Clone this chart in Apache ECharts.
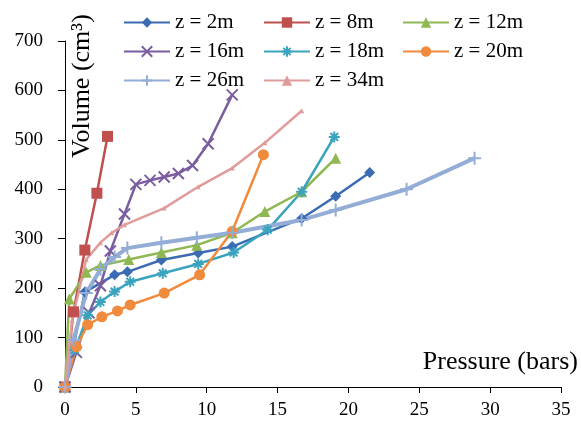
<!DOCTYPE html>
<html>
<head>
<meta charset="utf-8">
<script src="https://cdn.jsdelivr.net/npm/echarts@6/dist/echarts.min.js"></script>
<style>
html,body{margin:0;padding:0;background:#fff;}
#main{width:581px;height:428px;}
</style>
</head>
<body>
<div id="main"></div>
<script>
// [pressure (bars), volume (cm3)]
var z2 = [[0,0],[1.4,192],[3.5,227],[4.4,233],[6.8,257],[9.4,271],[11.8,284],[16.7,341],[19.1,386],[21.5,434]];
var z8 = [[0,0],[0.6,152],[1.4,277],[2.25,392],[3.0,507]];
var z12 = [[0,0],[0.3,178],[1.5,232],[2.5,246],[4.5,258],[6.8,272],[9.3,287],[11.8,312],[14.1,355],[16.7,395],[19.1,463]];
var z16 = [[0,0],[0.8,70],[1.7,150],[2.5,205],[3.2,275],[4.2,350],[5,410],[6,418],[7,425],[8,432],[9,448],[10.1,492],[11.8,591]];
var z18 = [[0,0],[0.7,75],[1.6,145],[2.5,172],[3.5,193],[4.6,213],[6.9,230],[9.4,249],[11.9,272],[14.3,318],[16.7,395],[19.0,506]];
var z20 = [[0,0],[0.8,81],[1.6,126],[2.6,142],[3.7,154],[4.6,166],[7.0,190],[9.5,227],[11.8,315],[14.0,470]];
var z26 = [[0,0],[0.6,95],[1.5,190],[2.5,238],[3.5,263],[4.4,281],[6.8,292],[9.3,302],[11.8,312],[16.7,338],[19.1,358],[24.1,400],[28.9,463]];
var z34 = [[0,0],[0.5,135],[1.5,258],[2.5,292],[3.3,312],[4.2,328],[7.0,362],[9.4,405],[11.8,443],[14.1,494],[16.7,559]];

var names = ['z = 2m','z = 8m','z = 12m','z = 16m','z = 18m','z = 20m','z = 26m','z = 34m'];
var xTicks = [0,5,10,15,20,25,30,35];
var yTicks = [0,100,200,300,400,500,600,700];

var FONT = '"Liberation Serif", "Times New Roman", serif';
var X_SYM = 'path://M0,0L10,10M10,0L0,10';
var STAR_SYM = 'path://M5,0L5,10M0,5L10,5M1.5,1.5L8.5,8.5M8.5,1.5L1.5,8.5';
var PLUS_SYM = 'path://M5,0L5,10M0,5L10,5';

function mk(name, data, color, symbol, size, width, stroke) {
    return {
        name: name,
        type: 'line',
        data: data,
        symbol: symbol,
        symbolSize: size,
        showSymbol: true,
        lineStyle: {color: color, width: width},
        itemStyle: {color: stroke ? 'transparent' : color, borderColor: color, borderWidth: stroke ? 2 : 0},
        emphasis: {disabled: true},
        animation: false
    };
}

var legendText = {fontFamily: FONT, fontSize: 21, color: '#000'};
function leg(left, data) {
    return {
        left: left, top: 7, orient: 'vertical',
        itemWidth: 46, itemHeight: 13, itemGap: 8,
        textStyle: legendText,
        data: data
    };
}

var option = {
    backgroundColor: '#fff',
    animation: false,
    grid: {left: 65, right: 20, top: 41, bottom: 41},
    legend: [
        leg(118, [names[0], names[3], names[6]]),
        leg(258, [names[1], names[4], names[7]]),
        leg(397, [names[2], names[5]])
    ],
    xAxis: {
        type: 'value', min: xTicks[0], max: xTicks[xTicks.length - 1], interval: 5,
        splitLine: {show: false},
        axisLine: {onZero: false, lineStyle: {color: '#000', width: 1}},
        axisTick: {show: true, length: 6, lineStyle: {color: '#000'}},
        axisLabel: {fontFamily: FONT, fontSize: 19, color: '#000', margin: 14}
    },
    yAxis: {
        type: 'value', min: yTicks[0], max: yTicks[yTicks.length - 1], interval: 100,
        splitLine: {show: false},
        axisLine: {show: true, lineStyle: {color: '#000', width: 1}},
        axisTick: {show: true, length: 7, lineStyle: {color: '#000'}},
        axisLabel: {fontFamily: FONT, fontSize: 19, color: '#000', margin: 22}
    },
    graphic: [
        {type: 'text', right: 3, top: 349,
         style: {text: 'Pressure (bars)', font: '26px ' + FONT, fill: '#000'}},
        {type: 'text', x: 69, y: 158, rotation: Math.PI / 2,
         style: {text: 'Volume (cm³)', font: '26px ' + FONT, fill: '#000', textAlign: 'left', textVerticalAlign: 'top'}}
    ],
    series: [
        mk(names[0], z2, '#3b6cb3', 'diamond', 11, 2.5, false),
        mk(names[1], z8, '#c0504d', 'rect', 11, 2.5, false),
        mk(names[2], z12, '#8fb852', 'triangle', 11, 2.5, false),
        mk(names[3], z16, '#7a5ca0', X_SYM, 11, 2.5, true),
        mk(names[4], z18, '#3aa3bd', STAR_SYM, 11, 2.5, true),
        mk(names[5], z20, '#f08a3c', 'circle', 11, 2.5, false),
        mk(names[6], z26, '#93add6', PLUS_SYM, 13, 4, true),
        mk(names[7], z34, '#df9c9b', 'triangle', 5, 2.5, false)
    ]
};

var chart = echarts.init(document.getElementById('main'), null, {renderer: 'canvas'});
chart.setOption(option);
</script>
</body>
</html>
